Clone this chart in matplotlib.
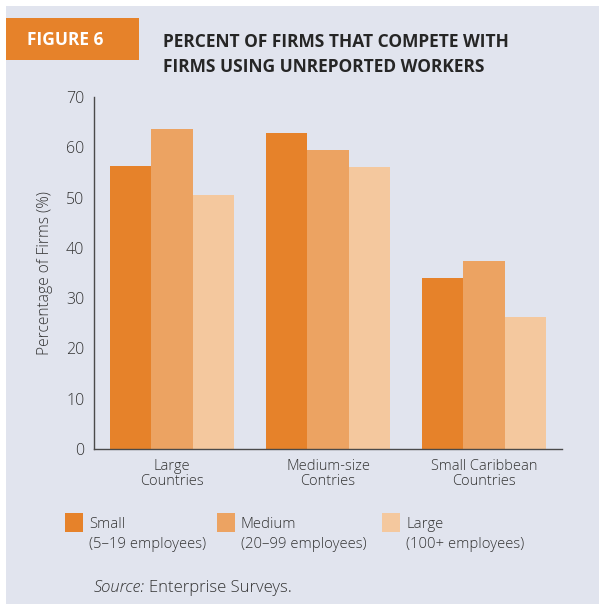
import matplotlib
matplotlib.use('Agg')
import matplotlib.pyplot as plt
import matplotlib.patches as mpatches
import numpy as np

# ── data ──────────────────────────────────────────────────────────────
groups = ['Large\nCountries', 'Medium-size\nContries', 'Small Caribbean\nCountries']
series = ['Small', 'Medium', 'Large']
series_sub = ['(5–19 employees)', '(20–99 employees)', '(100+ employees)']
small_firms = [56.3, 62.8, 34.0]
medium_firms = [63.6, 59.4, 37.4]
large_firms = [50.5, 56.1, 26.2]
yticks = [0, 10, 20, 30, 40, 50, 60, 70]

C_BG = '#E1E4EE'
C_TXT = '#333333'
COLORS = ['#E6822A', '#ECA362', '#F4C89E']
LIGHT = 'light'

plt.rcParams['font.family'] = ['Open Sans', 'DejaVu Sans']

W, H = 599, 604
fig = plt.figure(figsize=(W / 100, H / 100), dpi=100)
fig.patch.set_facecolor('white')

def fx(px):
    return px / W

def fy(py):
    return 1 - py / H

# grey panel behind everything
fig.patches.append(mpatches.Rectangle((fx(6), 0), 1 - fx(6), fy(6), transform=fig.transFigure,
                                      facecolor=C_BG, edgecolor='none', zorder=-5))
# orange figure tag
fig.patches.append(mpatches.Rectangle((fx(6), fy(60)), fx(139) - fx(6), fy(18) - fy(60),
                                      transform=fig.transFigure, facecolor='#E6822A',
                                      edgecolor='none', zorder=1))
fig.text(fx(27), fy(40), 'FIGURE 6', color='white', fontsize=12.5, fontweight='bold',
         ha='left', va='center')
fig.text(fx(163), fy(42), 'PERCENT OF FIRMS THAT COMPETE WITH', color='#262626',
         fontsize=12.5, fontweight='bold', ha='left', va='center')
fig.text(fx(163), fy(67), 'FIRMS USING UNREPORTED WORKERS', color='#262626',
         fontsize=12.5, fontweight='bold', ha='left', va='center')

# ── bars ──────────────────────────────────────────────────────────────
ax = fig.add_axes([fx(94), fy(449), fx(562) - fx(94), fy(97) - fy(449)])
ax.set_facecolor('none')
x = np.arange(len(groups))
w = 0.267
for i, vals in enumerate([small_firms, medium_firms, large_firms]):
    ax.bar(x + (i - 1) * w, vals, width=w, color=COLORS[i], zorder=2)

ax.set_xlim(-0.5, 2.5)
ax.set_ylim(0, 70)
ax.set_yticks(yticks)
ax.set_yticklabels([str(t) for t in yticks], fontsize=11.5, color=C_TXT, fontweight=LIGHT)
ax.set_xticks(x)
ax.set_xticklabels(groups, fontsize=10.5, color=C_TXT, linespacing=1.05, fontweight=LIGHT)
ax.tick_params(axis='y', length=0, pad=7)
ax.tick_params(axis='x', length=0, pad=7)
ax.set_ylabel('Percentage of Firms (%)', fontsize=11.2, color=C_TXT, labelpad=9,
              fontweight=LIGHT)
for s in ['top', 'right']:
    ax.spines[s].set_visible(False)
for s in ['left', 'bottom']:
    ax.spines[s].set_color('#4A4A4A')
    ax.spines[s].set_linewidth(1.0)
    ax.spines[s].set_zorder(3)

# ── legend ────────────────────────────────────────────────────────────
for sq_x, txt_x, name, sub, col in zip([65, 217, 382], [89, 241, 406], series, series_sub, COLORS):
    fig.patches.append(mpatches.Rectangle((fx(sq_x), fy(532)), fx(18), fy(513) - fy(532),
                                          transform=fig.transFigure, facecolor=col,
                                          edgecolor='none', zorder=1))
    fig.text(fx(txt_x), fy(524), name, fontsize=10.7, color=C_TXT, ha='left', va='center',
             fontweight=LIGHT)
    fig.text(fx(txt_x), fy(545), sub, fontsize=10.7, color=C_TXT, ha='left', va='center',
             fontweight=LIGHT)

src = fig.text(fx(94), fy(588), 'Source:', fontsize=12, color=C_TXT, ha='left', va='center',
               style='italic', fontweight=LIGHT)
fig.canvas.draw()
bb = src.get_window_extent()
fig.text(bb.x1 / W + fx(4), fy(588), 'Enterprise Surveys.', fontsize=12, color=C_TXT,
         ha='left', va='center', fontweight=LIGHT)

fig.savefig('out.png', dpi=100, facecolor='white')
